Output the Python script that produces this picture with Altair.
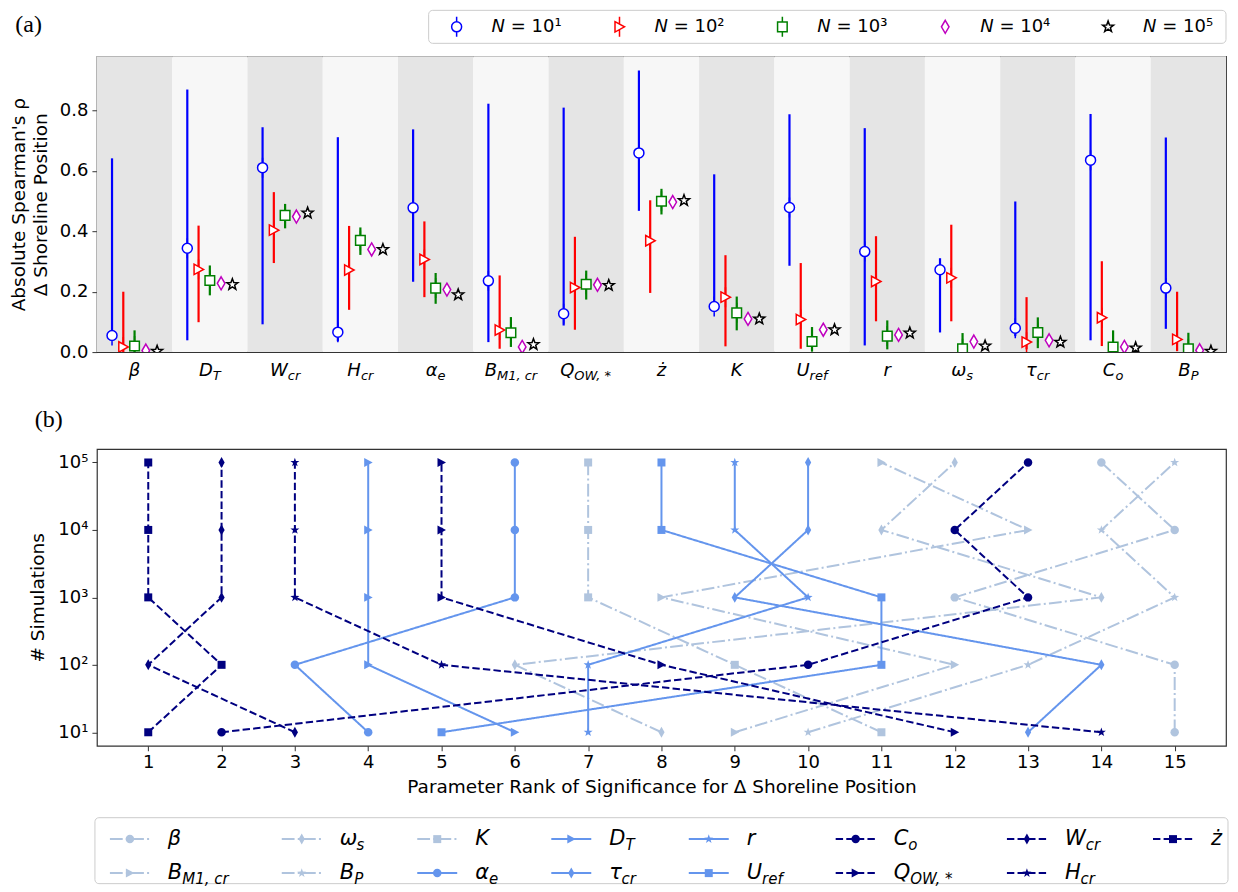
import math
import altair as alt
import pandas as pd

# ---------------- panel (a) data ----------------
PARAM_MAIN = ["β", "D", "W", "H", "α", "B", "Q", "ż", "K", "U", "r", "ω", "τ", "C", "B"]
PARAM_SUB = ["", "T", "cr", "cr", "e", "M1, cr", "OW, *", "", "", "ref", "", "s", "cr", "o", "P"]
N_LABELS = ["N = 10¹", "N = 10²", "N = 10³", "N = 10⁴", "N = 10⁵"]
N_LEG_VAR = ["N", "N", "N", "N", "N"]
N_LEG_REST = ["= 10¹", "= 10²", "= 10³", "= 10⁴", "= 10⁵"]

RHO_1E1 = [0.055, 0.344, 0.611, 0.066, 0.478, 0.236, 0.127, 0.660, 0.151, 0.479, 0.333, 0.273, 0.079, 0.636, 0.212]
LOW_1E1 = [0.050, 0.039, 0.092, 0.036, 0.233, 0.033, 0.088, 0.468, 0.150, 0.286, 0.022, 0.065, 0.053, 0.039, 0.077]
HIGH_1E1 = [0.642, 0.870, 0.745, 0.712, 0.738, 0.823, 0.810, 0.933, 0.589, 0.788, 0.742, 0.311, 0.499, 0.789, 0.711]

RHO_1E2 = [0.017, 0.274, 0.404, 0.272, 0.307, 0.073, 0.214, 0.369, 0.182, 0.108, 0.234, 0.246, 0.033, 0.114, 0.042]
LOW_1E2 = [0.000, 0.099, 0.295, 0.140, 0.182, 0.011, 0.074, 0.196, 0.019, 0.011, 0.102, 0.102, 0.009, 0.020, 0.003]
HIGH_1E2 = [0.200, 0.419, 0.530, 0.418, 0.433, 0.254, 0.382, 0.503, 0.321, 0.295, 0.384, 0.422, 0.182, 0.301, 0.200]

RHO_1E3 = [0.020, 0.237, 0.453, 0.370, 0.212, 0.064, 0.225, 0.500, 0.130, 0.035, 0.053, 0.011, 0.065, 0.017, 0.011]
LOW_1E3 = [0.000, 0.188, 0.410, 0.322, 0.160, 0.017, 0.174, 0.456, 0.072, 0.002, 0.009, 0.000, 0.013, 0.000, 0.000]
HIGH_1E3 = [0.072, 0.287, 0.491, 0.413, 0.262, 0.116, 0.270, 0.541, 0.184, 0.083, 0.105, 0.063, 0.115, 0.072, 0.064]

RHO_1E4 = [0.005, 0.228, 0.449, 0.340, 0.207, 0.017, 0.223, 0.497, 0.110, 0.074, 0.057, 0.035, 0.039, 0.017, 0.006]
LOW_1E4 = [0.000, 0.222, 0.443, 0.334, 0.201, 0.011, 0.217, 0.491, 0.104, 0.068, 0.051, 0.029, 0.033, 0.011, 0.000]
HIGH_1E4 = [0.011, 0.234, 0.455, 0.346, 0.213, 0.023, 0.229, 0.503, 0.116, 0.080, 0.063, 0.041, 0.045, 0.023, 0.012]

RHO_1E5 = [0.003, 0.224, 0.461, 0.340, 0.190, 0.025, 0.221, 0.502, 0.110, 0.074, 0.063, 0.020, 0.033, 0.014, 0.003]
LOW_1E5 = [0.000, 0.222, 0.459, 0.338, 0.188, 0.023, 0.219, 0.500, 0.108, 0.072, 0.061, 0.018, 0.031, 0.012, 0.001]
HIGH_1E5 = [0.005, 0.226, 0.463, 0.342, 0.192, 0.027, 0.223, 0.504, 0.112, 0.076, 0.065, 0.022, 0.035, 0.016, 0.005]

# ---------------- panel (b) data ----------------
LEG_MAIN = ["β", "B", "ω", "B", "K", "α", "D", "τ", "r", "U", "C", "Q", "W", "H", "ż"]
LEG_SUB = ["", "M1, cr", "s", "P", "", "e", "T", "cr", "", "ref", "o", "OW, *", "cr", "cr", ""]
SIMS = [10, 100, 1000, 10000, 100000]
RANK_1E1 = [15, 9, 8, 10, 11, 4, 6, 13, 7, 5, 2, 12, 3, 14, 1]
RANK_1E2 = [15, 12, 6, 13, 9, 3, 4, 14, 7, 11, 10, 8, 1, 5, 2]
RANK_1E3 = [12, 8, 14, 15, 7, 6, 4, 9, 10, 11, 13, 5, 2, 3, 1]
RANK_1E4 = [15, 13, 11, 14, 7, 6, 4, 10, 9, 8, 12, 5, 2, 3, 1]
RANK_1E5 = [14, 11, 12, 15, 7, 6, 4, 10, 9, 8, 13, 5, 2, 3, 1]

# ---------------- styling helpers ----------------
W_PLOT = 1130
H_A = 296
H_B = 297
LEG_GAP = 72
H_LEG = 66
Y_TOP = 0.98

EM = {'β': 0.60, 'D': 0.77, 'W': 0.99, 'H': 0.75, 'α': 0.66, 'B': 0.69, 'Q': 0.79, 'ż': 0.53,
      'K': 0.66, 'U': 0.73, 'r': 0.41, 'ω': 0.80, 'τ': 0.58, 'C': 0.70, 'T': 0.61, 'c': 0.55,
      'e': 0.62, 'M': 0.86, '1': 0.64, ',': 0.32, ' ': 0.32, 'O': 0.79, '*': 0.50, 'f': 0.35,
      's': 0.52, 'o': 0.61, 'P': 0.60, 'N': 0.75}


def tw(s, fs):
    return sum(EM.get(ch, 0.6) for ch in s) * fs


def star_path(r_out, r_in):
    pts = []
    for i in range(10):
        ang = -math.pi / 2 + i * math.pi / 5
        r = r_out if i % 2 == 0 else r_in
        pts.append(f"{r * math.cos(ang):.3f},{r * math.sin(ang):.3f}")
    return "M" + "L".join(pts) + "Z"


SHAPES_A = [
    "M-0.5,0A0.5,0.5 0 1,0 0.5,0A0.5,0.5 0 1,0 -0.5,0Z M0,-0.5L0,-1 M0,0.5L0,1",
    "M-0.45,-0.52L0.5,0L-0.45,0.52Z M0,-0.27L0,-1 M0,0.27L0,1",
    "M-0.48,-0.48L0.48,-0.48L0.48,0.48L-0.48,0.48Z M0,-0.48L0,-1 M0,0.48L0,1",
    "M0,-0.65L0.38,0L0,0.65L-0.38,0Z",
    star_path(0.58, 0.24),
]
COLORS_A = ["#0000ff", "#ff0000", "#008000", "#bf00bf", "#000000"]

CIRC_B = "M-0.85,0A0.85,0.85 0 1,0 0.85,0A0.85,0.85 0 1,0 -0.85,0Z"
TRI_B = "M-0.8,-0.9L0.9,0L-0.8,0.9Z"
DIA_B = "M0,-1.1L0.62,0L0,1.1L-0.62,0Z"
STAR_B = star_path(0.95, 0.38)
SQ_B = "M-0.8,-0.8L0.8,-0.8L0.8,0.8L-0.8,0.8Z"
SHAPE_CYCLE = [CIRC_B, TRI_B, DIA_B, STAR_B, SQ_B]
GROUP_COLORS = ["#b0c4de", "#6495ed", "#000080"]
GROUP_DASH = [[12.8, 3.2, 2, 3.2], [1, 0], [7.4, 3.2]]

# ---------------- panel (a) ----------------
KEYS = [m + "|" + s for m, s in zip(PARAM_MAIN, PARAM_SUB)]
rows = []
for lab, mids, los, his in zip(N_LABELS,
                               [RHO_1E1, RHO_1E2, RHO_1E3, RHO_1E4, RHO_1E5],
                               [LOW_1E1, LOW_1E2, LOW_1E3, LOW_1E4, LOW_1E5],
                               [HIGH_1E1, HIGH_1E2, HIGH_1E3, HIGH_1E4, HIGH_1E5]):
    for k, m, lo, hi in zip(KEYS, mids, los, his):
        rows.append({"key": k, "N": lab, "mid": m, "lo": lo, "hi": hi})
dfA = pd.DataFrame(rows)
dfBand = pd.DataFrame({"key": KEYS,
                       "shade": ["dark" if i % 2 == 0 else "light" for i in range(len(KEYS))],
                       "y0": 0.0, "y1": Y_TOP})

FS_MAIN_A, FS_SUB_A = 18, 13
off_conds = []
for k, m, s in zip(KEYS, PARAM_MAIN, PARAM_SUB):
    if s:
        off = (tw(m, FS_MAIN_A) - tw(s, FS_SUB_A)) / 2
        off_conds.append({"test": f"datum.value === '{k}'", "value": round(off, 1)})
has_sub_test = " || ".join(f"datum.value === '{k}'" for k, s in zip(KEYS, PARAM_SUB) if s)

ax_main = alt.Axis(orient="bottom", title=None, labelExpr="split(datum.label, '|')[0]",
                   labelAlign={"condition": {"test": has_sub_test, "value": "right"}, "value": "center"},
                   labelOffset={"condition": off_conds, "value": 0},
                   labelFontSize=FS_MAIN_A, labelFontStyle="italic", labelPadding=9, labelAngle=0,
                   ticks=False, tickSize=0, domain=False, labelOverlap=False, grid=False)
ax_sub = alt.Axis(orient="bottom", title=None, labelExpr="split(datum.label, '|')[1]",
                  labelAlign="left",
                  labelOffset={"condition": off_conds, "value": 0},
                  labelFontSize=FS_SUB_A, labelFontStyle="italic", labelPadding=17.5, labelAngle=0,
                  ticks=False, tickSize=0, domain=False, labelOverlap=False, grid=False)

yaxA = alt.Axis(values=[0, 0.2, 0.4, 0.6, 0.8], format=".1f",
                title=["Absolute Spearman's ρ", "Δ Shoreline Position"],
                titleFontSize=18.5, titleFontWeight="normal", titleLineHeight=22, titlePadding=9,
                labelFontSize=18, labelPadding=4, tickSize=5, grid=False, domain=False)

xscaleA = alt.Scale(domain=KEYS, paddingInner=0, paddingOuter=0)
yscaleA = alt.Scale(domain=[0, Y_TOP], nice=False, zero=False)
xoffA = alt.Scale(domain=N_LABELS, paddingInner=0, paddingOuter=0.84)
colA = alt.Scale(domain=N_LABELS, range=COLORS_A)
shapeA = alt.Scale(domain=N_LABELS, range=SHAPES_A)

bands = alt.Chart(dfBand).mark_rect().encode(
    x=alt.X("key:N", scale=xscaleA, axis=ax_main),
    y=alt.Y("y0:Q", scale=yscaleA, axis=yaxA),
    y2="y1:Q",
    fill=alt.Fill("shade:N", scale=alt.Scale(domain=["dark", "light"], range=["#e5e5e5", "#f7f7f7"]),
                  legend=None),
)
bars = alt.Chart(dfA).mark_rule(strokeWidth=2.2).encode(
    x=alt.X("key:N", scale=xscaleA, axis=ax_sub),
    xOffset=alt.XOffset("N:N", scale=xoffA),
    y=alt.Y("lo:Q", scale=yscaleA, axis=yaxA),
    y2="hi:Q",
    color=alt.Color("N:N", scale=colA, legend=None),
)
pts = alt.Chart(dfA).mark_point(filled=False, fill="white", strokeWidth=1.5, size=400,
                                opacity=1, clip=True).encode(
    x=alt.X("key:N", scale=xscaleA, axis=None),
    xOffset=alt.XOffset("N:N", scale=xoffA),
    y=alt.Y("mid:Q", scale=yscaleA, axis=yaxA),
    stroke=alt.Stroke("N:N", scale=colA, legend=None),
    shape=alt.Shape("N:N", scale=shapeA, legend=None),
)
mainA = alt.layer(bands, bars, pts).resolve_axis(x="independent")

# legend of panel (a), drawn above the plot
FS_LEGA = 18
LEGA_FIRST = 360
LEGA_STEP = 163
legA_rows = []
for i, (lab, v, rest) in enumerate(zip(N_LABELS, N_LEG_VAR, N_LEG_REST)):
    xm = LEGA_FIRST + i * LEGA_STEP
    legA_rows.append({"N": lab, "xm": xm, "xv": xm + 35, "xr": xm + 35 + tw(v + " ", FS_LEGA),
                      "var": v, "rest": rest, "ym": 0.5})
dfLA = pd.DataFrame(legA_rows)
dfBoxA = pd.DataFrame({"bx0": [LEGA_FIRST - 28], "bx1": [W_PLOT], "by0": [0.0], "by1": [1.0]})
xscaleLA = alt.Scale(domain=[0, W_PLOT], nice=False, zero=False)
yscaleLA = alt.Scale(domain=[0, 1], range=[-46, -13], nice=False, zero=False)

legA_box = alt.Chart(dfBoxA).mark_rect(fill="white", stroke="#cccccc", strokeWidth=1,
                                       cornerRadius=4).encode(
    x=alt.X("bx0:Q", scale=xscaleLA, axis=None), x2="bx1:Q",
    y=alt.Y("by0:Q", scale=yscaleLA, axis=None), y2="by1:Q",
)
legA_pts = alt.Chart(dfLA).mark_point(filled=False, fill="white", strokeWidth=1.5, size=400,
                                      opacity=1).encode(
    x=alt.X("xm:Q", scale=xscaleLA, axis=None),
    y=alt.Y("ym:Q", scale=yscaleLA, axis=None),
    stroke=alt.Stroke("N:N", scale=colA, legend=None),
    shape=alt.Shape("N:N", scale=shapeA, legend=None),
)
legA_var = alt.Chart(dfLA).mark_text(align="left", baseline="middle", fontSize=FS_LEGA,
                                     fontStyle="italic", font="DejaVu Sans", color="black").encode(
    x=alt.X("xv:Q", scale=xscaleLA, axis=None),
    y=alt.Y("ym:Q", scale=yscaleLA, axis=None),
    text="var:N",
)
legA_rest = alt.Chart(dfLA).mark_text(align="left", baseline="middle", fontSize=FS_LEGA,
                                      font="DejaVu Sans", color="black").encode(
    x=alt.X("xr:Q", scale=xscaleLA, axis=None),
    y=alt.Y("ym:Q", scale=yscaleLA, axis=None),
    text="rest:N",
)
legendA = alt.layer(legA_box, legA_pts, legA_var, legA_rest)

panelA = alt.layer(mainA, legendA).resolve_scale(x="independent", y="independent").properties(
    width=W_PLOT, height=H_A,
    title=alt.TitleParams("(a)", anchor="start", frame="bounds", font="Liberation Serif",
                          fontSize=24, fontWeight="normal", color="black", offset=4, dx=6, dy=31),
)

# ---------------- panel (b) ----------------
LEG_KEYS = [m + "|" + s for m, s in zip(LEG_MAIN, LEG_SUB)]
rowsB = []
for sims, ranks in zip(SIMS, [RANK_1E1, RANK_1E2, RANK_1E3, RANK_1E4, RANK_1E5]):
    for k, r in zip(LEG_KEYS, ranks):
        rowsB.append({"key": k, "sims": sims, "rank": r})
dfB = pd.DataFrame(rowsB)

colorsB = [GROUP_COLORS[i // 5] for i in range(len(LEG_KEYS))]
dashesB = [GROUP_DASH[i // 5] for i in range(len(LEG_KEYS))]
shapesB = [SHAPE_CYCLE[i % 5] for i in range(len(LEG_KEYS))]
colB = alt.Scale(domain=LEG_KEYS, range=colorsB)
dashB = alt.Scale(domain=LEG_KEYS, range=dashesB)
shpB = alt.Scale(domain=LEG_KEYS, range=shapesB)

xaxB = alt.Axis(values=list(range(1, 16)), format="d",
                title="Parameter Rank of Significance for Δ Shoreline Position",
                titleFontSize=18.5, titleFontWeight="normal", titlePadding=6,
                labelFontSize=18, labelPadding=3, tickSize=5, grid=False, domain=False)
yaxB = alt.Axis(values=SIMS,
                labelExpr="'10' + ['⁰','¹','²','³','⁴','⁵'][round(log(datum.value)/LN10)]",
                title="# Simulations", titleFontSize=18.5, titleFontWeight="normal", titlePadding=10,
                labelFontSize=18, labelPadding=4, tickSize=5, grid=False, domain=False)
xscaleB = alt.Scale(domain=[0.3, 15.7], nice=False, zero=False)
yscaleB = alt.Scale(type="log", domain=[10 ** 0.8, 10 ** 5.2], nice=False)

linesB = alt.Chart(dfB).mark_line(strokeWidth=2).encode(
    x=alt.X("rank:Q", scale=xscaleB, axis=xaxB),
    y=alt.Y("sims:Q", scale=yscaleB, axis=yaxB),
    color=alt.Color("key:N", scale=colB, legend=None),
    strokeDash=alt.StrokeDash("key:N", scale=dashB, legend=None),
    order=alt.Order("sims:Q"),
    detail="key:N",
)
ptsB = alt.Chart(dfB).mark_point(filled=True, size=100, opacity=1).encode(
    x=alt.X("rank:Q", scale=xscaleB, axis=xaxB),
    y=alt.Y("sims:Q", scale=yscaleB, axis=yaxB),
    color=alt.Color("key:N", scale=colB, legend=None),
    shape=alt.Shape("key:N", scale=shpB, legend=None),
)
plotB = alt.layer(linesB, ptsB)

# ---------------- legend of panel (b), drawn below the plot ----------------
FS_LEG, FS_LEG_SUB = 21, 15
LEG_FIRST = 33
LEG_BASE_GAP = 111
n_cols = (len(LEG_KEYS) + 1) // 2
col_w = []
for c in range(n_cols):
    idx = [i for i in range(len(LEG_KEYS)) if i // 2 == c]
    col_w.append(max(tw(LEG_MAIN[i], FS_LEG) + tw(LEG_SUB[i], FS_LEG_SUB) for i in idx))
col_x = [LEG_FIRST]
for c in range(n_cols - 1):
    col_x.append(col_x[-1] + LEG_BASE_GAP + col_w[c])

leg_rows = []
for i, (k, m, s) in enumerate(zip(LEG_KEYS, LEG_MAIN, LEG_SUB)):
    xm = col_x[i // 2]
    leg_rows.append({"key": k, "row": i % 2, "xm": xm, "x0": xm - 20, "x1": xm + 20,
                     "xt": xm + 38, "xs": xm + 38 + tw(m, FS_LEG), "main": m, "sub": s})
dfL = pd.DataFrame(leg_rows)
ROW_DOMAIN = [-0.63, 1.31]
dfBox = pd.DataFrame({"bx0": [-2], "bx1": [W_PLOT + 2], "by0": [ROW_DOMAIN[0]], "by1": [ROW_DOMAIN[1]]})
xscaleL = alt.Scale(domain=[0, W_PLOT], nice=False, zero=False)
yscaleL = alt.Scale(domain=ROW_DOMAIN, range=[H_B + LEG_GAP, H_B + LEG_GAP + H_LEG],
                    nice=False, zero=False)

leg_box = alt.Chart(dfBox).mark_rect(fill="white", stroke="#cccccc", strokeWidth=1,
                                     cornerRadius=4).encode(
    x=alt.X("bx0:Q", scale=xscaleL, axis=None), x2="bx1:Q",
    y=alt.Y("by0:Q", scale=yscaleL, axis=None), y2="by1:Q",
)
leg_lines = alt.Chart(dfL).mark_rule(strokeWidth=2).encode(
    x=alt.X("x0:Q", scale=xscaleL, axis=None), x2="x1:Q",
    y=alt.Y("row:Q", scale=yscaleL, axis=None),
    color=alt.Color("key:N", scale=colB, legend=None),
    strokeDash=alt.StrokeDash("key:N", scale=dashB, legend=None),
)
leg_pts = alt.Chart(dfL).mark_point(filled=True, size=100, opacity=1).encode(
    x=alt.X("xm:Q", scale=xscaleL, axis=None),
    y=alt.Y("row:Q", scale=yscaleL, axis=None),
    color=alt.Color("key:N", scale=colB, legend=None),
    shape=alt.Shape("key:N", scale=shpB, legend=None),
)
leg_main = alt.Chart(dfL).mark_text(align="left", baseline="middle", fontSize=FS_LEG,
                                    fontStyle="italic", font="DejaVu Sans", color="black").encode(
    x=alt.X("xt:Q", scale=xscaleL, axis=None),
    y=alt.Y("row:Q", scale=yscaleL, axis=None),
    text="main:N",
)
leg_sub = alt.Chart(dfL).mark_text(align="left", baseline="middle", fontSize=FS_LEG_SUB, dy=6,
                                   fontStyle="italic", font="DejaVu Sans", color="black").encode(
    x=alt.X("xs:Q", scale=xscaleL, axis=None),
    y=alt.Y("row:Q", scale=yscaleL, axis=None),
    text="sub:N",
)
legendB = alt.layer(leg_box, leg_lines, leg_pts, leg_main, leg_sub)

panelB = alt.layer(plotB, legendB).resolve_scale(x="independent", y="independent").properties(
    width=W_PLOT, height=H_B,
    title=alt.TitleParams("(b)", anchor="start", frame="bounds", font="Liberation Serif",
                          fontSize=24, fontWeight="normal", color="black", offset=17, dx=6),
)

chart = alt.vconcat(panelA, panelB, spacing=97, bounds="flush").resolve_scale(
    color="independent", shape="independent", stroke="independent",
    strokeDash="independent", fill="independent"
).properties(
    padding=0
).configure(font="DejaVu Sans").configure_view(
    stroke="#333333", strokeWidth=1.2
).configure_axis(
    labelFont="DejaVu Sans", titleFont="DejaVu Sans", labelColor="black", titleColor="black",
    tickColor="#333333", tickWidth=1
)

chart.save("out.html", embed_options={"renderer": "svg", "actions": False})
